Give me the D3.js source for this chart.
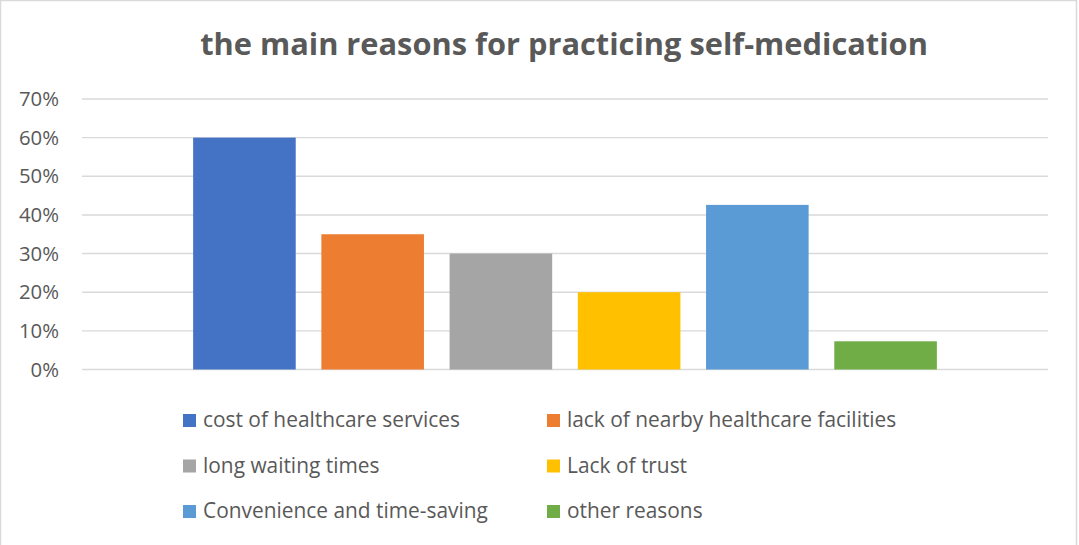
<!DOCTYPE html>
<html>
<head>
<meta charset="utf-8">
<script src="https://cdn.jsdelivr.net/npm/d3@7"></script>
<style>
body { margin: 0; background: #fff; }
text { font-family: "Open Sans", "Liberation Sans", sans-serif; fill: #595959; }
</style>
</head>
<body>
<div id="chart"></div>
<script>
const width = 1079
const height = 545

const title = "the main reasons for practicing self-medication"
const reasons = ["cost of healthcare services", "lack of nearby healthcare facilities", "long waiting times",
	"Lack of trust", "Convenience and time-saving", "other reasons"]
const shares = [0.60, 0.35, 0.30, 0.20, 0.426, 0.073]
const colors = ["#4472C4", "#ED7D31", "#A5A5A5", "#FFC000", "#5B9BD5", "#70AD47"]
const yTicks = [0, 0.1, 0.2, 0.3, 0.4, 0.5, 0.6, 0.7]

let svg = d3.select("#chart")
.append("svg")
.attr("width", width)
.attr("height", height)

// chart border
svg.append("rect")
.attr("x", 0.5).attr("y", 0.5)
.attr("width", width - 3).attr("height", height + 5)
.attr("fill", "#fff")
.attr("stroke", "#d9d9d9")
.attr("stroke-width", 1.5)

let plot = {left: 82, right: 1048, top: 99, bottom: 369.5}

let y = d3.scaleLinear().domain([0, 0.7]).range([plot.bottom, plot.top])

let x0 = d3.scaleBand().domain(["all"]).range([plot.left, plot.right]).padding(0.13)
let x1 = d3.scaleBand().domain(reasons).range([0, x0.bandwidth()]).paddingInner(0.2).paddingOuter(0)

// gridlines
svg.append("g")
.selectAll("line")
.data(yTicks)
.join("line")
.attr("x1", plot.left).attr("x2", plot.right)
.attr("y1", d => y(d)).attr("y2", d => y(d))
.attr("stroke", "#d9d9d9")
.attr("stroke-width", 1.4)

// y labels
let yLabels = svg.append("g")
.selectAll("text")
.data(yTicks)
.join("text")
.attr("x", 59)
.attr("y", d => y(d) + 7)
.attr("text-anchor", "end")
.attr("font-size", 20)
.text(d => d3.format(".0%")(d))
let yw = yLabels.nodes()[7].getComputedTextLength()
yLabels.attr("font-size", 20 * 40 / yw)

// bars
svg.append("g")
.attr("transform", "translate(" + x0("all") + ",0)")
.selectAll("rect")
.data(reasons)
.join("rect")
.attr("x", d => x1(d))
.attr("width", x1.bandwidth())
.attr("y", (d, i) => y(shares[i]))
.attr("height", (d, i) => y(0) - y(shares[i]))
.attr("fill", (d, i) => colors[i])

// title
let titleText = svg.append("text")
.attr("x", 564)
.attr("y", 55)
.attr("text-anchor", "middle")
.attr("font-size", 28)
.attr("font-weight", "bold")
.text(title)
let tw = titleText.node().getComputedTextLength()
titleText.attr("font-size", 28 * 728 / tw)

// legend
let legendCols = [183, 547]
let legendRows = [427, 472.5, 518]
let legend = svg.append("g")
let items = legend.selectAll("g")
.data(reasons)
.join("g")
.attr("transform", (d, i) => "translate(" + legendCols[i % 2] + "," + legendRows[Math.floor(i / 2)] + ")")

items.append("rect")
.attr("x", 0).attr("y", -13)
.attr("width", 13).attr("height", 13)
.attr("fill", (d, i) => colors[i])

let labels = items.append("text")
.attr("x", 20)
.attr("y", 0)
.attr("font-size", 19)
.text(d => d)
let lw = labels.nodes()[0].getComputedTextLength()
labels.attr("font-size", 19 * 257 / lw)
</script>
</body>
</html>
